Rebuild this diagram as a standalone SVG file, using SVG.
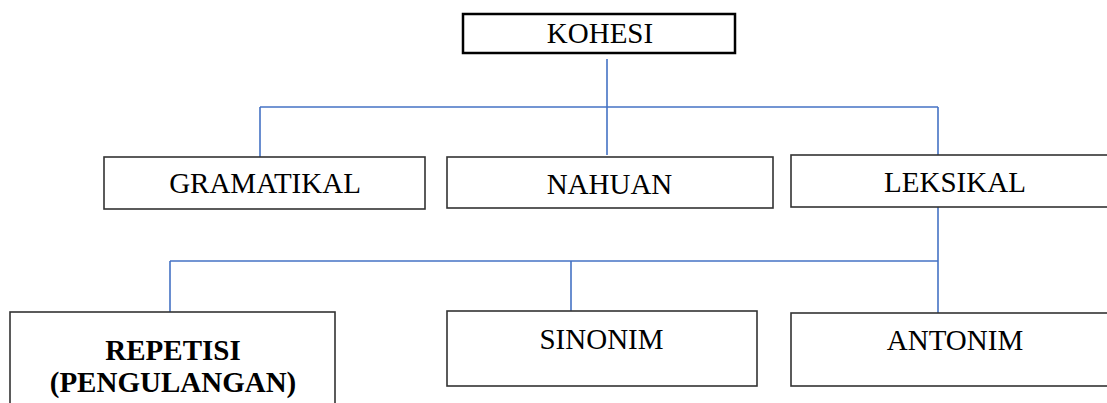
<svg xmlns="http://www.w3.org/2000/svg" width="1107" height="403" viewBox="0 0 1107 403">
<style>
.box{fill:#ffffff;stroke:#333333;stroke-width:1.6}
.box-main{fill:#ffffff;stroke:#000000;stroke-width:2.5}
.lbl{font-family:"Liberation Serif","Times New Roman",serif;font-size:29px;fill:#000000;text-anchor:middle}
.bold{font-weight:bold}
.conn{stroke:#4472C4;stroke-width:1.6;fill:none}
</style>
<rect width="1107" height="403" fill="#ffffff"/>
<g id="connectors">
<line class="conn" x1="607" y1="59" x2="607" y2="107"/>
<line class="conn" x1="260" y1="107" x2="938" y2="107"/>
<line class="conn" x1="260" y1="107" x2="260" y2="157"/>
<line class="conn" x1="607" y1="107" x2="607" y2="155"/>
<line class="conn" x1="938" y1="107" x2="938" y2="155"/>
<line class="conn" x1="938" y1="203" x2="938" y2="313"/>
<line class="conn" x1="170" y1="261" x2="938" y2="261"/>
<line class="conn" x1="170" y1="261" x2="170" y2="312"/>
<line class="conn" x1="571" y1="261" x2="571" y2="311"/>
</g>
<g id="node-kohesi">
<rect class="box-main" x="463" y="14" width="272" height="39"/>
<text class="lbl" x="600" y="43">KOHESI</text>
</g>
<g id="node-gramatikal">
<rect class="box" x="104" y="157" width="321" height="52"/>
<text class="lbl" x="265" y="193">GRAMATIKAL</text>
</g>
<g id="node-nahuan">
<rect class="box" x="447" y="157" width="326" height="51"/>
<text class="lbl" x="609.5" y="194">NAHUAN</text>
</g>
<g id="node-leksikal">
<rect class="box" x="791" y="155" width="330" height="52"/>
<text class="lbl" x="955" y="192">LEKSIKAL</text>
</g>
<g id="node-repetisi">
<rect class="box" x="10" y="312" width="325" height="110"/>
<text class="lbl bold" x="173" y="360">REPETISI</text>
<text class="lbl bold" x="173" y="392">(PENGULANGAN)</text>
</g>
<g id="node-sinonim">
<rect class="box" x="447" y="311" width="310" height="75"/>
<text class="lbl" x="601.5" y="349">SINONIM</text>
</g>
<g id="node-antonim">
<rect class="box" x="791" y="313" width="330" height="73"/>
<text class="lbl" x="955" y="350">ANTONIM</text>
</g>
</svg>
